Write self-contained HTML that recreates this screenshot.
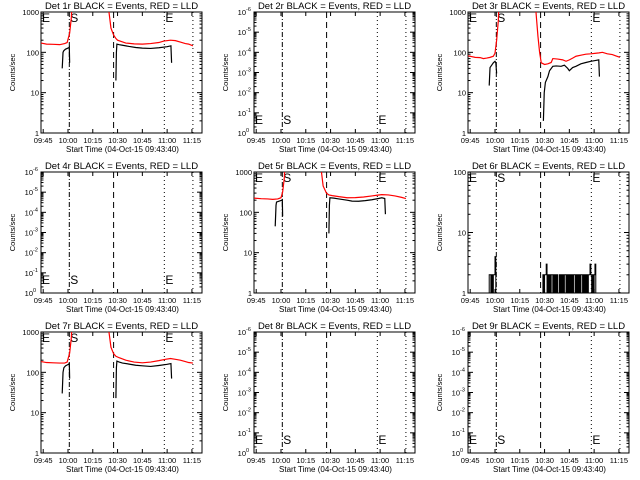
<!DOCTYPE html>
<html><head><meta charset="utf-8"><style>
html,body{margin:0;padding:0;background:#fff;}
svg{display:block;font-family:"Liberation Sans",sans-serif;}
</style></head><body>
<svg id="chart" width="640" height="480" viewBox="0 0 640 480"></svg>
<script>
// Time in minutes since 09:45
const xTickLabels = ["09:45","10:00","10:15","10:30","10:45","11:00","11:15"];
const xTickMinutes = [0,15,30,45,60,75,90];
const markerMinutes = [15.8,42.6,73.3,90.6];
const panelTitles = ["Det 1r","Det 2r","Det 3r","Det 4r","Det 5r","Det 6r","Det 7r","Det 8r","Det 9r"];
const panelDecades = [[0,3],[0,6],[0,3],[0,6],[0,3],[0,2],[0,3],[0,6],[0,6]];

const red1T = [-1.3,2,6,10,13,14.5,16,17,17.5,null,39.8,41,42.6,44,45,50,55,60,65,70,73,77,80,83,86,88,90.6];
const red1V = [170,160,158,155,165,175,300,700,2000,null,1000,400,270,220,200,170,162,160,165,175,190,200,195,180,165,160,145];
const blk1T = [11.5,12,12.5,13.5,15.5,15.8,16,null,44,44.3,44.6,46,48,52,56,60,65,70,75,77.3,77.7];
const blk1V = [40,100,110,120,130,135,55,null,20,100,160,155,150,140,132,127,125,130,138,145,55];

const red3T = [-1.3,3,6,8,10,12,14,15,16,17,17.5,null,39.8,41,42,43,45,47,49,50,53,56,58,60,62,64,67,70,73,76,78,80,83,86,88,90.6];
const red3V = [82,75,74,70,72,75,80,95,200,600,2000,null,1000,250,100,55,50,52,56,70,68,65,60,65,72,80,85,90,92,95,97,100,92,88,82,75];
const blk3T = [11.5,12,13,14,15,15.5,16,null,44.3,44.8,45.5,47,48,50,52,55,57,59,60,62,64,67,70,73,76,77.8,78.2];
const blk3V = [15,42,48,55,60,55,30,null,2,10,18,25,35,45,46,45,48,40,35,42,45,52,56,60,63,65,25];

const red5T = [-1.3,3,7,10,13,15,16,17,17.5,null,39.5,40.5,42.5,44,46,50,55,60,65,70,73,76,80,84,88,90.6];
const red5V = [225,218,215,210,215,230,320,700,2000,null,1000,450,300,270,260,245,230,232,240,255,265,275,270,255,235,220];
const blk5T = [11.5,12,12.3,14,15.5,15.8,16,null,44,44.3,44.6,47,50,55,58,62,66,70,74,76,77.8,78.2];
const blk5V = [45,150,180,190,200,205,80,null,30,150,230,225,215,200,190,188,195,205,220,230,220,90];

const red7T = [-1.3,2,6,10,13,14.5,16,17,17.5,null,39.8,41,42.6,44,46,50,55,60,65,70,74,77,80,83,86,88,90.6];
const red7V = [185,175,172,170,170,180,300,700,2000,null,1000,420,290,250,230,200,180,172,180,195,210,220,210,200,185,175,170];
const blk7T = [11.5,12,12.5,13.5,15.5,15.8,16,null,44,44.3,44.6,46,48,52,56,60,65,70,75,77.3,77.7];
const blk7V = [30,100,130,145,160,170,70,null,23,130,190,180,170,160,150,145,140,148,158,165,70];

const blk6T1 = 11.5; // start minute, 0.5 min steps
const blk6V1 = [2,2,1,2,1,2,2,4,1];
const blk6T2 = 44;
const blk6V2 = [2,1,2,2,3,1,2,1,2,1,2,2,1,2,1,2,1,2,1,1,2,1,2,1,2,1,2,2,1,2,1,2,1,2,1,2,1,2,2,1,2,1,2,1,2,1,2,2,1,2,1,2,1,2,1,2,2,3,2,1,2,1,2,3,1];

const NS="http://www.w3.org/2000/svg";
const svg=document.getElementById('chart');
const PL=41,PR=202,PT=12,PB=133;
const X0=-1.333,X1=96.1;
function mk(tag,attrs,parent){const e=document.createElementNS(NS,tag);for(const k in attrs)e.setAttribute(k,attrs[k]);parent.appendChild(e);return e;}
function xs(t){return PL+(t-X0)/(X1-X0)*(PR-PL);}

function buildPanel(i){
  const col=i%3,row=Math.floor(i/3);
  const g=mk('g',{transform:`translate(${[0,213,427][col]},${row*160})`},svg);
  
  
  const dec=panelDecades[i];
  const expo=dec[1]===6;
  function ys(v){const l=Math.log10(v);return PB-(l-dec[0])/(dec[1]-dec[0])*(PB-PT);}
  const ti=mk('text',{x:(PL+PR)/2,y:9,'text-anchor':'middle','font-size':'9.5'},g);
  ti.textContent=panelTitles[i]+" BLACK = Events, RED = LLD";
  
  
  const cp=mk('clipPath',{id:'cp'+i},g);mk('rect',{x:PL,y:PT,width:PR-PL,height:PB-PT},cp);
  const fr=mk('rect',{x:PL,y:PT,width:PR-PL,height:PB-PT,fill:'none',stroke:'#000','stroke-width':1},g);
  
  
  xTickMinutes.forEach((m,k)=>{
    const x=xs(m);
    mk('line',{x1:x,x2:x,y1:PB,y2:PB-4,stroke:'#000'},g);
    mk('line',{x1:x,x2:x,y1:PT,y2:PT+4,stroke:'#000'},g);
    const t=mk('text',{x:x,y:PB+10,'text-anchor':'middle','font-size':'7.5'},g);
    t.textContent=xTickLabels[k];
    
    
  });
  const xl=mk('text',{x:(PL+PR)/2+1,y:PB+19,'text-anchor':'middle','font-size':'8'},g);
  xl.textContent="Start Time (04-Oct-15 09:43:40)";
  
  
  const yl=mk('text',{x:0,y:0,'text-anchor':'middle','font-size':'7.5',transform:`translate(15,${(PT+PB)/2}) rotate(-90)`},g);
  yl.textContent="Counts/sec";
  
  
  for(let d=dec[0];d<=dec[1];d++){
    const y=ys(Math.pow(10,d));
    mk('line',{x1:PL,x2:PL+5,y1:y,y2:y,stroke:'#000'},g);
    mk('line',{x1:PR,x2:PR-5,y1:y,y2:y,stroke:'#000'},g);
    const t=mk('text',{x:PL-2,y:y+3,'text-anchor':'end','font-size':'7.5'},g);
    
    
    if(expo){
      t.setAttribute('x',PL-8);
      t.textContent="10";
      const s=mk('text',{x:PL-8,y:y-1,'text-anchor':'start','font-size':'5.5'},g);
      s.textContent=d===0?"0":"-"+d;
      
      
    } else t.textContent=String(Math.pow(10,d));
    if(d<dec[1]) for(let m=2;m<=9;m++){
      const yy=ys(m*Math.pow(10,d));
      mk('line',{x1:PL,x2:PL+2.5,y1:yy,y2:yy,stroke:'#000'},g);
      mk('line',{x1:PR,x2:PR-2.5,y1:yy,y2:yy,stroke:'#000'},g);
    }
  }
  const dashes=['5,2,1,2','6,4','1,3','1,3'];
  markerMinutes.forEach((m,k)=>{
    const l=mk('line',{x1:xs(m),x2:xs(m),y1:PT,y2:PB,stroke:'#000','stroke-dasharray':dashes[k]},g);
    
    
  });
  const ly=expo?PB-9:PT+10;
  [[PL+1,'E'],[xs(markerMinutes[0])+1,'S'],[xs(markerMinutes[2])+1,'E']].forEach(([x,s])=>{
    const t=mk('text',{x:x,y:ly,'font-size':'12'},g);
    t.textContent=s;
    
    
  });
  const dg=mk('g',{'clip-path':`url(#cp${i})`},g);
  function series(T,V,color,name){
    let d='',pen=false;
    T.forEach((t,k)=>{
      if(t===null||V[k]===null){pen=false;return;}
      d+=(pen?'L':'M')+xs(t).toFixed(2)+','+ys(V[k]).toFixed(2);pen=true;
    });
    const p=mk('path',{d:d,fill:'none',stroke:color,'stroke-width':1.2},dg);
    
    
  }
  function steps(t0,V,name){
    let d='M'+xs(t0).toFixed(2)+','+ys(1).toFixed(2);
    V.forEach((v,k)=>{
      const a=xs(t0+k*0.5),b=xs(t0+(k+1)*0.5),y=ys(v);
      d+='L'+a.toFixed(2)+','+y.toFixed(2)+'L'+b.toFixed(2)+','+y.toFixed(2);
    });
    d+='L'+xs(t0+V.length*0.5).toFixed(2)+','+ys(1).toFixed(2);
    const p=mk('path',{d:d,fill:'none',stroke:'#000','stroke-width':1},dg);
    
    
  }
  if(i===0){series(red1T,red1V,'#ff0000','lld-series');series(blk1T,blk1V,'#000','events-series');}
  if(i===2){series(red3T,red3V,'#ff0000','lld-series');series(blk3T,blk3V,'#000','events-series');}
  if(i===4){series(red5T,red5V,'#ff0000','lld-series');series(blk5T,blk5V,'#000','events-series');}
  if(i===6){series(red7T,red7V,'#ff0000','lld-series');series(blk7T,blk7V,'#000','events-series');}
  if(i===5){steps(blk6T1,blk6V1,'events-series-a');steps(blk6T2,blk6V2,'events-series-b');}
}
for(let i=0;i<9;i++)buildPanel(i);
</script>
</body></html>
